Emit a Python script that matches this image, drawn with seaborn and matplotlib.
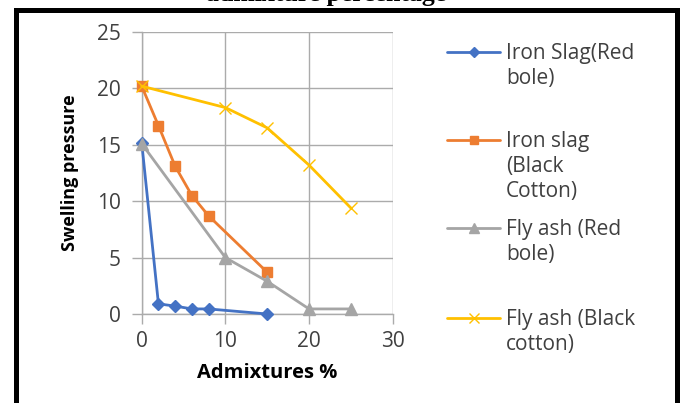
import matplotlib
matplotlib.use("Agg")
import matplotlib.pyplot as plt
from matplotlib.lines import Line2D
import numpy as np
import pandas as pd
import seaborn as sns

# Swelling pressure versus admixture content
iron_slag_red_x = [0, 2, 4, 6, 8, 15]
iron_slag_red_y = [15.2, 0.9, 0.7, 0.45, 0.45, 0.0]

iron_slag_black_x = [0, 2, 4, 6, 8, 15]
iron_slag_black_y = [20.2, 16.7, 13.1, 10.5, 8.7, 3.7]

fly_ash_red_x = [0, 10, 15, 20, 25]
fly_ash_red_y = [15.1, 5.0, 2.9, 0.45, 0.45]

fly_ash_black_x = [0, 10, 15, 20, 25]
fly_ash_black_y = [20.2, 18.3, 16.5, 13.2, 9.4]

labels = ["Iron Slag(Red\nbole)", "Iron slag\n(Black\nCotton)",
          "Fly ash (Red\nbole)", "Fly ash (Black\ncotton)"]
x_ticks = [0, 10, 20, 30]
y_ticks = [0, 5, 10, 15, 20, 25]

colors = ["#4472C4", "#ED7D31", "#A5A5A5", "#FFC000"]
markers = ["D", "s", "^", "x"]
msizes = [6, 7.5, 8, 9]
mews = [1, 1, 1, 1.0]

sns.set_theme(style="white")
plt.rcParams["font.family"] = ["Open Sans", "DejaVu Sans"]

W, H = 683, 403
fig = plt.figure(figsize=(W / 100, H / 100), dpi=100)
ax = fig.add_axes([141.7 / W, 1 - 314 / H, (392.7 - 141.7) / W, (314 - 32) / H])

series = [
    (iron_slag_red_x, iron_slag_red_y),
    (iron_slag_black_x, iron_slag_black_y),
    (fly_ash_red_x, fly_ash_red_y),
    (fly_ash_black_x, fly_ash_black_y),
]

# Gridlines beneath the data
ax.set_axisbelow(True)
ax.grid(True, color="#ababab", linewidth=1.0)

for i, (xs, ys) in enumerate(series):
    df = pd.DataFrame({"x": xs, "y": ys})
    sns.lineplot(data=df, x="x", y="y", ax=ax, color=colors[i], linewidth=2.0,
                 marker=markers[i], markersize=msizes[i],
                 markeredgecolor=colors[i], markerfacecolor=colors[i],
                 markeredgewidth=mews[i], sort=False, legend=False, zorder=3 + i,
                 clip_on=False)

ax.set_xlim(0, 30)
ax.set_ylim(0, 25)
ax.set_xticks(x_ticks)
ax.set_yticks(y_ticks)
ax.set_xticklabels([str(t) for t in x_ticks])
ax.set_yticklabels([str(t) for t in y_ticks])

for s in ["top", "right"]:
    ax.spines[s].set_visible(False)
for s in ["left", "bottom"]:
    ax.spines[s].set_visible(True)
    ax.spines[s].set_color("#ababab")
    ax.spines[s].set_linewidth(1.0)

ax.tick_params(axis="both", which="both", direction="out", length=7, width=1,
               color="#ababab", labelsize=15, labelcolor="#404040",
               bottom=True, left=True)
ax.tick_params(axis="x", pad=5)
ax.tick_params(axis="y", pad=8)

ax.set_xlabel("Admixtures %", fontsize=14.5, fontweight="bold", color="#000000",
              labelpad=8)
ax.set_ylabel("Swelling pressure", fontsize=13, fontweight="bold",
              color="#000000", labelpad=13)

# Legend drawn at the right side of the frame
legend_rows = [52, 140, 228, 318]
for i, yy in enumerate(legend_rows):
    yf = 1 - yy / H
    fig.add_artist(Line2D([447 / W, 500 / W], [yf, yf], transform=fig.transFigure,
                          color=colors[i], linewidth=2.0))
    fig.add_artist(Line2D([473.5 / W], [yf], transform=fig.transFigure,
                          color=colors[i], marker=markers[i],
                          markersize=msizes[i] * 0.85,
                          markeredgecolor=colors[i], markerfacecolor=colors[i],
                          markeredgewidth=mews[i], linestyle="none"))
    fig.text(506 / W, 1 - (yy - 9) / H, labels[i], fontsize=15, color="#404040",
             ha="left", va="top", linespacing=1.26,
             transform=fig.transFigure)

# Outer frame, open at the bottom
lw_px = 5
fig.add_artist(Line2D([15.5 / W, 15.5 / W, 677 / W, 677 / W],
                      [-0.05, 1 - 9.5 / H, 1 - 9.5 / H, -0.05],
                      transform=fig.transFigure, color="black",
                      linewidth=lw_px * 0.72, solid_joinstyle="miter"))

# Chart title sitting above the frame
fig.text(326 / W, 1 - 1.5 / H, "admixture percentage",
         ha="center", va="baseline", fontsize=18.5, fontweight="bold",
         family=["Liberation Serif", "DejaVu Serif"], color="black",
         transform=fig.transFigure)

fig.savefig("out.png", dpi=100, facecolor="white")
